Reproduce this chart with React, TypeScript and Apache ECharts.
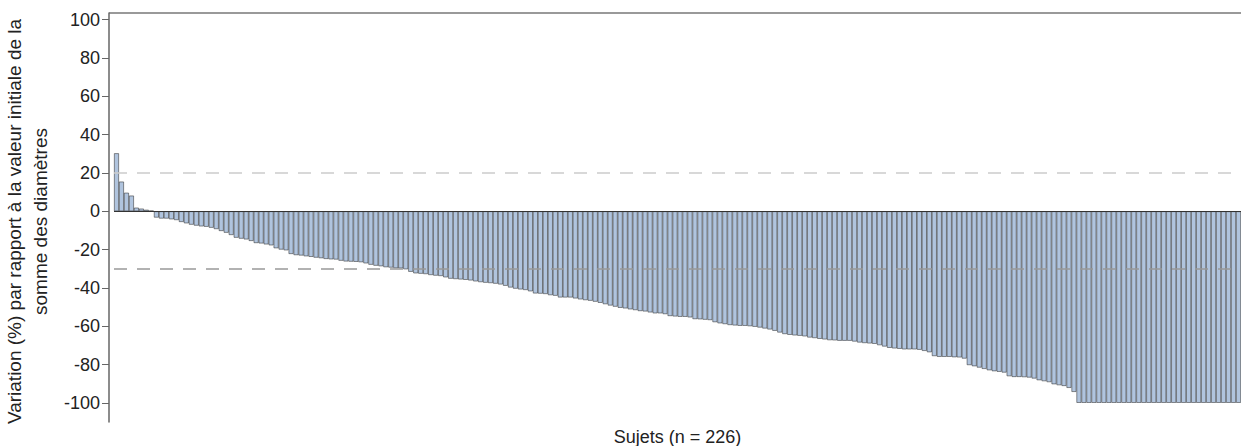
import React, { useEffect, useRef } from "react";
import * as echarts from "echarts";

const FONT = "'Liberation Sans', Arial, sans-serif";

const yTicks = [-100, -80, -60, -40, -20, 0, 20, 40, 60, 80, 100];
const thresholdUpper = 20;
const thresholdLower = -30;

const valuesA = [
  30.3, 15.5, 9.7, 8.2, 1.9, 1.4, 0.8, 0.3, -3.3, -3.8, -3.8, -4.2, -4.6, -5.6, -6.3, -7.0, -7.5, -7.9, -8.1, -8.6,
  -9.3, -10.3, -11.2, -12.4, -13.8, -14.3, -14.7, -15.5, -16.6, -16.8, -17.3, -17.8, -19.3, -20.0, -20.4, -22.3, -22.9,
  -23.1, -23.5, -23.8, -24.2, -24.5, -24.9, -25.1, -25.2, -25.8, -26.2, -26.3, -26.4, -26.6, -27.2, -27.9, -28.4, -28.7,
  -29.2, -29.4, -29.7,
];
const valuesB = [
  -29.8, -30.3, -31.6, -32.4, -32.6, -32.8, -33.3, -33.6, -33.8, -34.5, -35.2, -35.4, -35.6, -35.8, -36.1, -36.6, -37.0,
  -37.3, -37.5, -37.8, -38.2, -38.9, -39.8, -40.4, -40.8, -41.1, -41.8, -42.9, -43.0, -43.2, -43.8, -44.1, -45.0, -45.0,
  -45.0, -45.5, -46.0, -46.4, -46.7, -47.2, -47.8, -48.5, -49.2, -49.8, -50.4, -50.7, -51.2, -51.6, -52.1, -52.3, -52.8,
  -53.3, -53.3, -53.7, -54.7, -54.9, -55.1,
];
const valuesC = [
  -55.1, -55.4, -56.3, -56.4, -56.6, -56.8, -57.9, -58.5, -58.9, -59.4, -59.6, -59.8, -59.8, -60.0, -60.3, -60.7, -61.2,
  -61.7, -62.4, -63.3, -64.1, -64.5, -64.8, -65.0, -65.3, -65.9, -66.2, -66.6, -66.9, -67.3, -67.4, -67.6, -67.6, -67.6,
  -68.0, -68.5, -68.8, -69.0, -69.2, -69.9, -70.6, -71.3, -71.6, -71.8, -72.1, -72.1, -72.1, -72.3, -72.9, -73.6, -75.6,
  -76.0, -76.0, -76.0, -76.2, -76.3, -76.9,
];
const valuesD = [
  -80.3, -80.9, -81.6, -82.3, -83.0, -83.5, -83.8, -84.2, -86.1, -86.5, -86.5, -86.6, -86.8, -87.3, -88.2, -88.7, -89.2,
  -90.3, -90.8, -91.2, -92.2, -94.3,
];
const valuesE = [
  -100, -100, -100, -100, -100, -100, -100, -100, -100, -100, -100, -100, -100, -100, -100, -100, -100, -100, -100, -100,
  -100, -100, -100, -100, -100, -100, -100, -100, -100, -100, -100, -100, -100,
];

const values = [...valuesA, ...valuesB, ...valuesC, ...valuesD, ...valuesE];
const categories = values.map((_, i) => String(i + 1));

const yAxisTitle = "Variation (%) par rapport à la valeur initiale de la\nsomme des diamètres";
const xAxisTitle = `Sujets (n = ${values.length})`;

export default function App() {
  const ref = useRef<HTMLDivElement>(null);
  useEffect(() => {
    if (!ref.current) return;
    const chart = echarts.init(ref.current, null, { renderer: "svg" });
    chart.setOption({
      animation: false,
      textStyle: { fontFamily: FONT },
      grid: { left: 114, right: 0, top: 13, bottom: 24, containLabel: false, outerBoundsMode: "none" },
      xAxis: [
        {
          type: "category",
          data: categories,
          position: "bottom",
          axisLine: { show: false },
          axisTick: { show: false },
          axisLabel: { show: false },
          splitLine: { show: false },
          name: xAxisTitle,
          nameLocation: "middle",
          nameGap: 6,
          nameTextStyle: { fontSize: 18, color: "#222", fontFamily: FONT },
        },
      ],
      yAxis: {
        type: "value",
        min: -110,
        max: 103.5,
        offset: 5,
        axisLine: { show: true, lineStyle: { color: "#666", width: 1.5 } },
        axisTick: { show: true, length: 7, lineStyle: { color: "#666" }, customValues: yTicks },
        axisLabel: { customValues: yTicks, margin: 9, fontSize: 18, color: "#222", fontFamily: FONT },
        splitLine: { show: false },
        name: yAxisTitle,
        nameLocation: "middle",
        nameGap: 44,
        nameTextStyle: {
          fontSize: 19,
          lineHeight: 26,
          color: "#222",
          align: "center",
          fontFamily: FONT,
          padding: [0, 8, 0, 0],
        },
      },
      series: [
        {
          type: "bar",
          data: values,
          barCategoryGap: "0%",
          itemStyle: { color: "#b0c4de", borderColor: "rgba(30,30,30,0.7)", borderWidth: 0.7 },
          markLine: {
            silent: true,
            symbol: "none",
            label: { show: false },
            data: [
              { yAxis: 0, lineStyle: { color: "#333", type: "solid", width: 1 } },
              { yAxis: thresholdUpper, lineStyle: { color: "#ccc", type: [13, 10], width: 1.5 } },
              { yAxis: thresholdLower, lineStyle: { color: "#999", type: [13, 10], width: 1.5 } },
            ],
          },
        },
      ],
      graphic: [
        {
          type: "line",
          shape: { x1: 109, y1: 13, x2: 1241, y2: 13 },
          style: { stroke: "#777", lineWidth: 1.5 },
        },
      ],
    });
    return () => chart.dispose();
  }, []);
  return <div ref={ref} style={{ position: "absolute", left: 0, top: 0, width: 1241, height: 446 }} />;
}
